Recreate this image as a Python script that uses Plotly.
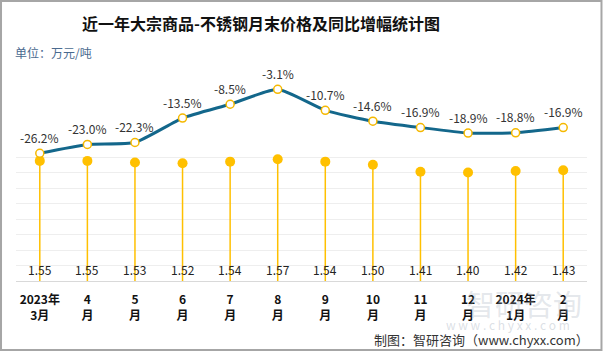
import plotly.graph_objects as go

months = ["2023年<br>3月", "4<br>月", "5<br>月", "6<br>月", "7<br>月", "8<br>月",
          "9<br>月", "10<br>月", "11<br>月", "12<br>月", "2024年<br>1月", "2<br>月"]
price = [1.55, 1.55, 1.53, 1.52, 1.54, 1.57, 1.54, 1.50, 1.41, 1.40, 1.42, 1.43]
yoy = [-26.2, -23.0, -22.3, -13.5, -8.5, -3.1, -10.7, -14.6, -16.9, -18.9, -18.8, -16.9]

W, H = 603, 351
ML, MR, MT, MB = 16, 15.5, 60, 70
PW = W - ML - MR
PH = H - MT - MB

FONT = "Noto Sans CJK SC"
GOLD = "#FFC000"
LINE = "#13678B"

fig = go.Figure()

# lollipop: stems via error bars down to zero, dots at price
fig.add_trace(go.Scatter(
    x=months, y=price, mode="markers", yaxis="y",
    marker=dict(size=10, color=GOLD),
    error_y=dict(type="data", symmetric=False, array=[0] * len(price),
                 arrayminus=price, color=GOLD, thickness=1.5, width=0),
    hoverinfo="skip", showlegend=False,
))

# YoY line
fig.add_trace(go.Scatter(
    x=months, y=yoy, mode="lines+markers", yaxis="y2",
    line=dict(color=LINE, width=3, shape="spline", smoothing=0.5),
    marker=dict(size=8, color="white", line=dict(color="#F5B800", width=1.5)),
    hoverinfo="skip", showlegend=False,
))

annotations = []
for m, p in zip(months, price):
    annotations.append(dict(x=m, y=0, xref="x", yref="y", text=f"{p:.2f}",
                            showarrow=False, yshift=12,
                            font=dict(family=FONT, size=12, color="#222")))
for m, v in zip(months, yoy):
    annotations.append(dict(x=m, y=v, xref="x", yref="y2", text=f"{v:.1f}%",
                            showarrow=False, yshift=16,
                            font=dict(family=FONT, size=12, color="#333")))

def px(xp):
    return (xp - ML) / PW

def py(yp):
    return (H - MB - yp) / PH

annotations += [
    dict(text="近一年大宗商品-不锈钢月末价格及同比增幅统计图", x=px(261), y=py(23),
         xref="paper", yref="paper", showarrow=False, xanchor="center", yanchor="middle",
         font=dict(family=FONT, size=16, color="#111", weight="bold")),
    dict(text="单位：万元/吨", x=px(13), y=py(53), xref="paper", yref="paper",
         showarrow=False, xanchor="left", yanchor="middle",
         font=dict(family=FONT, size=12, color="#4A6A8F")),
    dict(text="智研咨询", x=px(524), y=py(303), xref="paper", yref="paper",
         showarrow=False, xanchor="center", yanchor="middle",
         font=dict(family=FONT, size=29, color="rgba(165,175,190,0.3)")),
    dict(text="w w w . c h y x x . c o m", x=px(508), y=py(324), xref="paper", yref="paper",
         showarrow=False, xanchor="center", yanchor="middle",
         font=dict(family=FONT, size=12, color="rgba(165,175,190,0.4)")),
    dict(text="制图：智研咨询（www.chyxx.com）", x=px(592), y=py(339),
         xref="paper", yref="paper", showarrow=False, xanchor="right", yanchor="middle",
         font=dict(family=FONT, size=13, color="#333")),
]

shapes = [dict(type="rect", xref="paper", yref="paper",
               x0=px(1), x1=px(602), y0=py(350), y1=py(1),
               line=dict(color="#A6A6A6", width=2), fillcolor="rgba(0,0,0,0)", layer="above")]

fig.update_layout(
    width=W, height=H,
    margin=dict(l=ML, r=MR, t=MT, b=MB),
    paper_bgcolor="white", plot_bgcolor="rgba(0,0,0,0)",
    font=dict(family=FONT),
    xaxis=dict(type="category", showgrid=False, showline=True, linecolor="#D9D9D9",
               linewidth=1, ticks="", ticklabelstandoff=8, range=[-0.5, 11.5],
               tickfont=dict(family=FONT, size=12, color="#111", weight="bold")),
    yaxis=dict(domain=[0, (281 - 141.5) / PH], range=[0, 1.8], dtick=0.2,
               showgrid=True, gridcolor="#EEEEEE", gridwidth=1, zeroline=False,
               showticklabels=False, showline=False),
    yaxis2=dict(domain=[0, 1], range=[-72.28, 7.47], anchor="x",
                showgrid=False, zeroline=False, showticklabels=False, showline=False),
    annotations=annotations,
    shapes=shapes,
)

fig.write_html("out.html")
